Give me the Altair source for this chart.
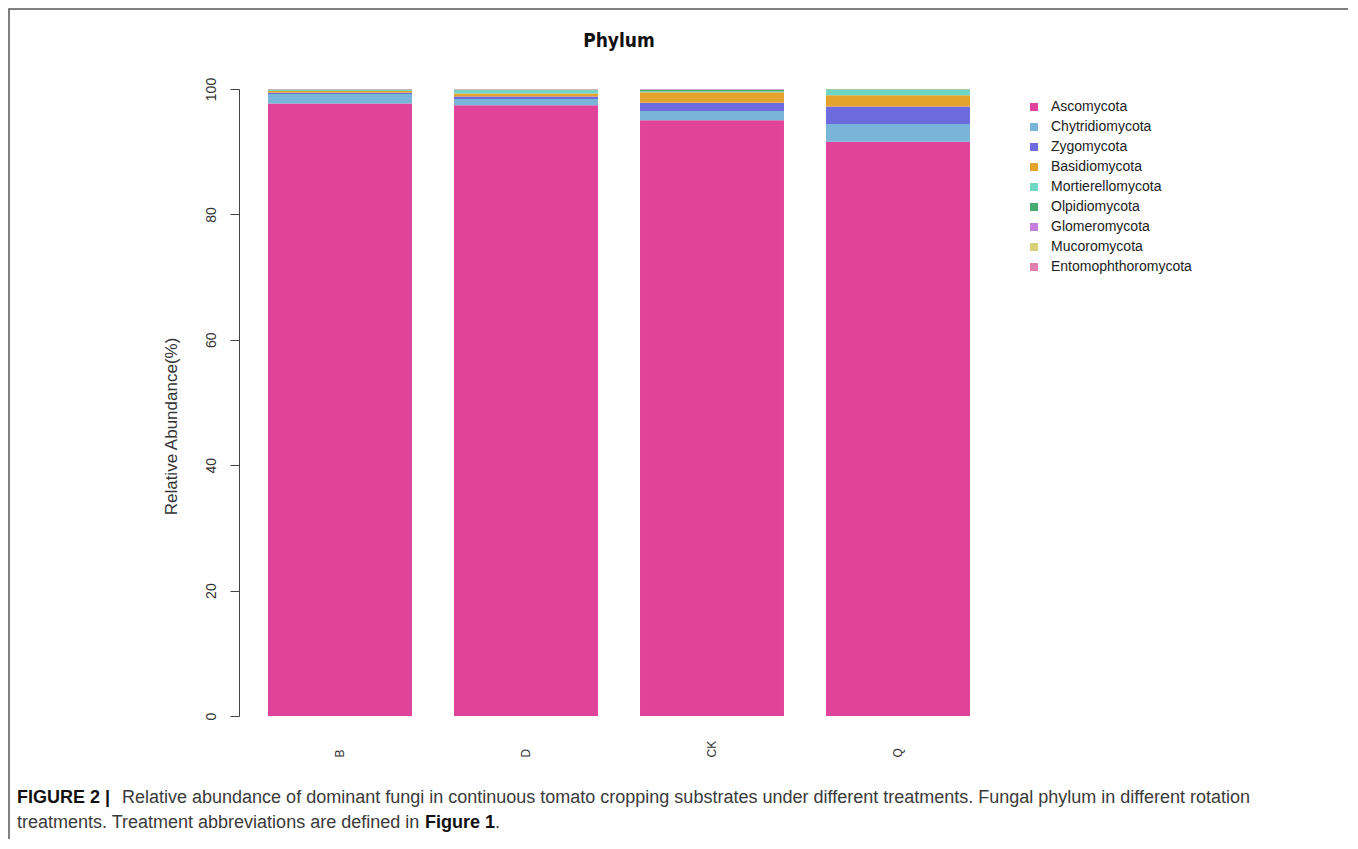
import altair as alt
import pandas as pd

samples = ["B", "D", "CK", "Q"]
phyla = ["Ascomycota", "Chytridiomycota", "Zygomycota", "Basidiomycota",
         "Mortierellomycota", "Olpidiomycota", "Glomeromycota",
         "Mucoromycota", "Entomophthoromycota"]
colors = ["#e0439a", "#79b4d9", "#6d6bdd", "#e3a32c", "#6fd6c5",
          "#4aa871", "#c67ddb", "#d4d27a", "#df7fab"]

ascomycota = [97.7, 97.4, 95.0, 91.6]
chytridiomycota = [1.5, 1.0, 1.5, 2.8]
zygomycota = [0.2, 0.4, 1.3, 2.8]
basidiomycota = [0.3, 0.5, 1.7, 1.8]
mortierellomycota = [0.2, 0.5, 0.1, 0.9]
olpidiomycota = [0.03, 0.1, 0.3, 0.05]
glomeromycota = [0.02, 0.03, 0.05, 0.02]
mucoromycota = [0.03, 0.04, 0.03, 0.02]
entomophthoromycota = [0.02, 0.03, 0.02, 0.01]

y_ticks = [0, 20, 40, 60, 80, 100]

series = [ascomycota, chytridiomycota, zygomycota, basidiomycota,
          mortierellomycota, olpidiomycota, glomeromycota, mucoromycota,
          entomophthoromycota]

rows = []
for k, (name, vals) in enumerate(zip(phyla, series)):
    for s, v in zip(samples, vals):
        rows.append({"sample": s, "phylum": name, "value": v, "order": k})
df = pd.DataFrame(rows)

SANS = "Liberation Sans, Arial, Helvetica, sans-serif"

bars = alt.Chart(df).mark_bar(strokeWidth=0).encode(
    x=alt.X("sample:N", sort=samples,
            scale=alt.Scale(paddingInner=0.226, paddingOuter=0.156),
            axis=alt.Axis(title=None, labelAngle=-90, labelAlign="left",
                          labelBaseline="middle", ticks=False, tickSize=0,
                          domain=False, labelPadding=41, labelFontSize=12,
                          labelColor="#333333", labelFont=SANS)),
    y=alt.Y("value:Q", stack="zero",
            scale=alt.Scale(domain=[0, 100], nice=False, zero=True),
            axis=alt.Axis(title="Relative Abundance(%)", values=y_ticks,
                          grid=False, labelAngle=-90, labelAlign="center",
                          labelBaseline="alphabetic", labelPadding=15,
                          tickSize=9, tickColor="#444444", domainColor="#444444",
                          labelFontSize=14, labelColor="#333333", labelFont=SANS,
                          titleFontSize=17, titleFontWeight="normal",
                          titleColor="#333333", titleFont=SANS, titlePadding=24,
                          titleY=337)),
    color=alt.Color("phylum:N",
                    scale=alt.Scale(domain=phyla, range=colors),
                    legend=alt.Legend(orient="none", legendX=788, legendY=11,
                                      title=None, symbolType="square",
                                      symbolSize=64, symbolStrokeWidth=0,
                                      symbolOpacity=1, labelFontSize=14,
                                      labelFont=SANS, labelColor="#222222",
                                      rowPadding=6, labelOffset=10, padding=0)),
    order=alt.Order("order:Q", sort="ascending"),
)

one = pd.DataFrame({"k": [0]})

title = alt.Chart(pd.DataFrame({"t": ["Phylum"]})).mark_text(
    font="Liberation Sans Narrow, DejaVu Sans Condensed, Liberation Sans, sans-serif",
    fontSize=19, fontWeight="bold", color="#111111", align="center",
    baseline="alphabetic").encode(x=alt.value(380), y=alt.value(-42), text="t:N")


def cap(txt, x, y, bold=False):
    return alt.Chart(pd.DataFrame({"t": [txt]})).mark_text(
        font=SANS, fontSize=18, fontWeight="bold" if bold else "normal",
        color="#111111" if bold else "#3a3a3a", align="left",
        baseline="alphabetic").encode(x=alt.value(x), y=alt.value(y), text="t:N")


cap_bold1 = cap("FIGURE 2 |", -222, 714, True)
cap_norm1 = cap("Relative abundance of dominant fungi in continuous tomato cropping "
                "substrates under different treatments. Fungal phylum in different rotation",
                -117, 714)
cap_norm2 = cap("treatments. Treatment abbreviations are defined in", -222, 739)
cap_bold2 = cap("Figure 1", 186, 739, True)
cap_dot = cap(".", 256, 739)

frame = alt.Chart(one).mark_rect(fillOpacity=0, stroke="#555555", strokeWidth=1.5).encode(
    x=alt.value(-230), x2=alt.value(1110), y=alt.value(-80), y2=alt.value(760))

chart = alt.layer(bars, title, cap_bold1, cap_norm1, cap_norm2, cap_bold2,
                  cap_dot, frame).properties(
    width=760, height=627,
    padding={"left": 231, "top": 81, "right": 349, "bottom": 123},
    autosize=alt.AutoSizeParams(type="none"),
    background="white",
).configure_view(strokeWidth=0)

chart.save("out.html", embed_options={"renderer": "svg", "actions": False})
